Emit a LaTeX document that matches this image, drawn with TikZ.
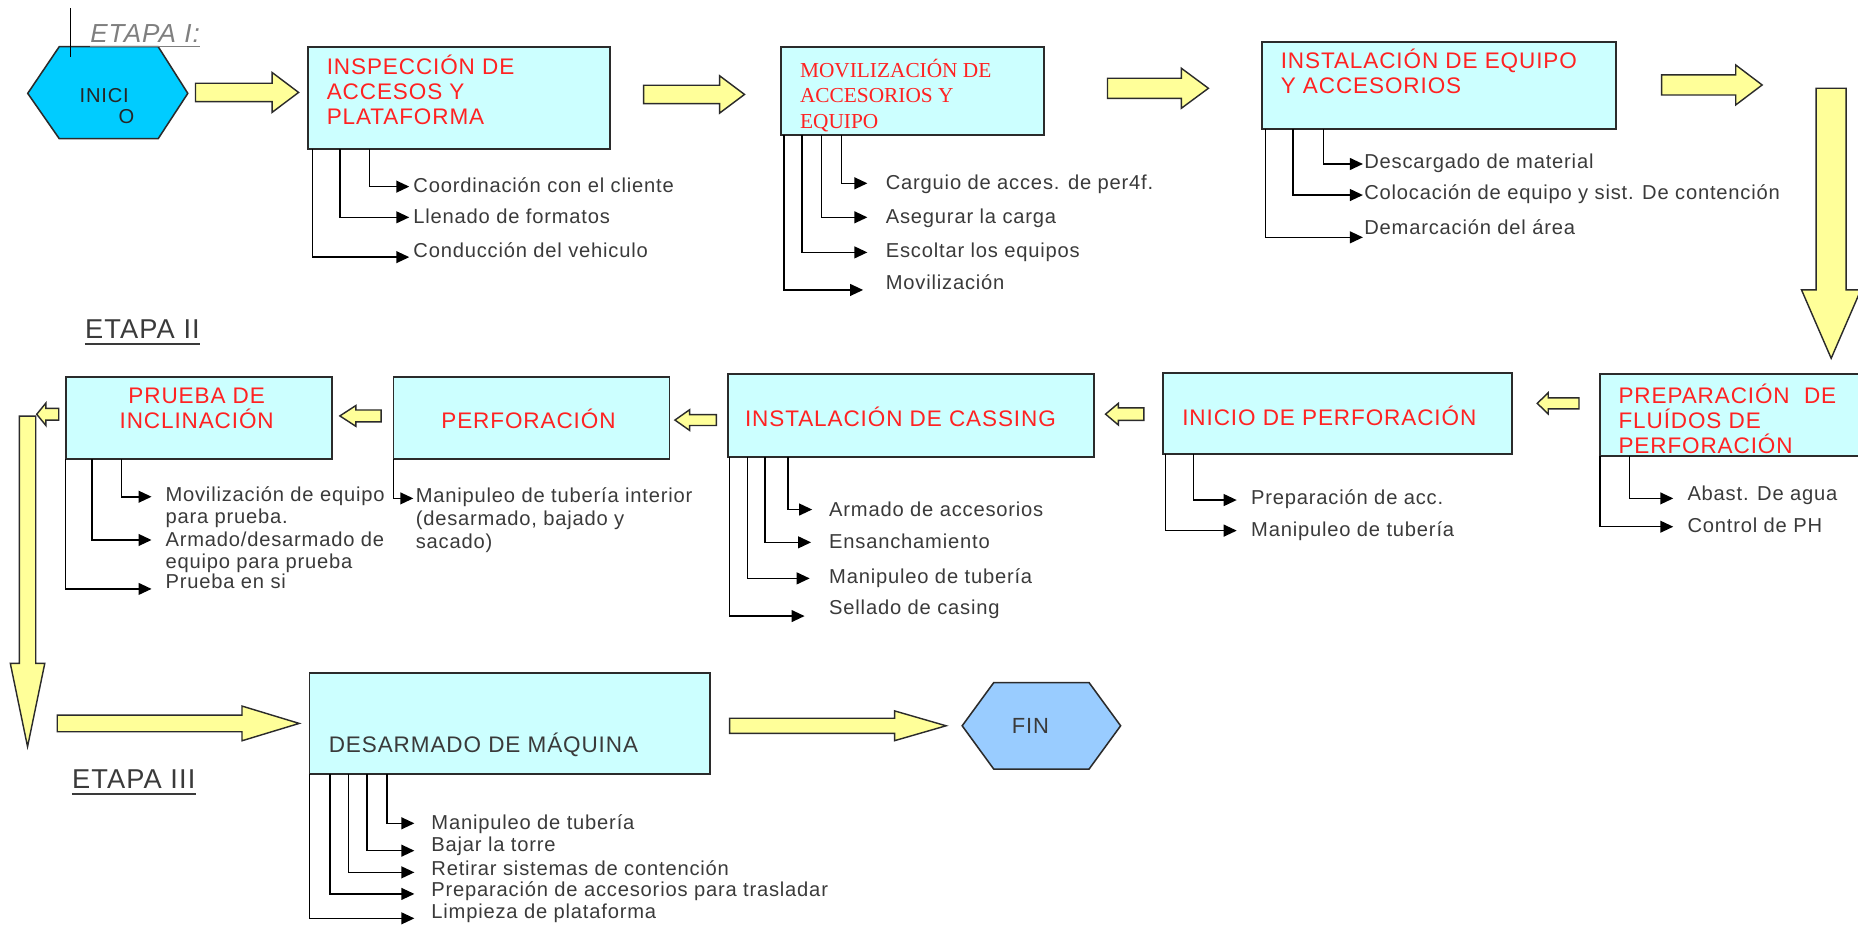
\documentclass[tikz,border=0pt]{standalone}
\usepackage{fontspec}
\setmainfont{Liberation Sans}[LetterSpace=4.0]
\newfontfamily\serfont{Liberation Serif}
\usetikzlibrary{arrows.meta}
\definecolor{boxfill}{HTML}{CCFFFF}
\definecolor{yel}{HTML}{FFFF99}
\definecolor{hexA}{HTML}{00CCFF}
\definecolor{hexB}{HTML}{99CCFF}
\definecolor{ttlred}{HTML}{FF2222}
\definecolor{txt}{HTML}{3A3A3A}
\definecolor{edge}{HTML}{2B2B2B}
\definecolor{etgray}{HTML}{7F7F7F}
\newcommand\yharr[6]{\draw[yarr] (#1,#4-#5) -- (#2,#4-#5) -- (#2,#4-#6) -- (#3,#4) -- (#2,#4+#6) -- (#2,#4+#5) -- (#1,#4+#5) -- cycle;}
\newcommand\yvarr[6]{\draw[yarr] (#1-#5,#2) -- (#1-#5,#3) -- (#1-#6,#3) -- (#1,#4) -- (#1+#6,#3) -- (#1+#5,#3) -- (#1+#5,#2) -- cycle;}
\tikzset{
 pbox/.style={draw=edge, line width=1.5pt, fill=boxfill, inner sep=0pt, outer sep=0pt},
 ttl/.style={inner sep=0pt, text=ttlred, font=\fontsize{19}{21.1}\selectfont, align=left},
 subt/.style={inner sep=0pt, text=txt, font=\fontsize{17}{18.3}\selectfont, align=left, anchor=base west},
 subarr/.style={draw=black, line width=1.3pt, -{Triangle[length=11pt,width=10pt]}},
 yarr/.style={draw=edge, line width=1.2pt, fill=yel, line join=miter},
 etapa/.style={inner sep=0pt, text=txt, font=\fontsize{23}{25}\selectfont, anchor=base west},
 hexs/.style={draw=edge, line width=1.3pt},
}
\begin{document}
\begin{tikzpicture}[x=1pt,y=-1pt]
\useasboundingbox (0,0) rectangle (1568,781);
\fill[white] (0,0) rectangle (1568,781);

% ---------- ETAPA I ----------
\draw[hexs, fill=hexA] (23.4,78.8) -- (50,39.4) -- (133.5,39.4) -- (158.5,78.8) -- (133.5,117) -- (50,117) -- cycle;
\node[inner sep=0pt, anchor=base west, font=\fontsize{17}{18.5}\selectfont, align=left, text=black!85] (inicio) at (67,104.6) {INICI\\\hspace*{33pt}O};
\coordinate (mkA) at (59.4,7);
\coordinate (mkB) at (59.4,47.8);
\draw[line width=1.3pt] (mkA) -- (mkB);
\node[etapa, font=\itshape\fontsize{22}{24}\selectfont, text=etgray] (e1) at (76,35.9) {ETAPA I:};
\draw[etgray, line width=1pt] ([yshift=-3.5pt]e1.base west) -- ([yshift=-3.5pt]e1.base east);

\yharr{165}{229.6}{252}{78}{7.75}{16.85}

\node[pbox, minimum width=255.4pt, minimum height=86.3pt] (insp) at (387.3,82.55) {};
\node[ttl, anchor=base west] (inspT) at (275.6,105.3) {INSPECCIÓN DE\\ACCESOS Y\\PLATAFORMA};
\coordinate (inspA) at (345.4,157.5);
\coordinate (inspB) at (345.4,183.4);
\coordinate (inspC) at (345.4,217);
\draw[subarr] ([xshift=52.4pt]insp.south west) |- (inspA);
\draw[subarr] ([xshift=27.4pt]insp.south west) |- (inspB);
\draw[subarr] ([xshift=4pt]insp.south west) |- (inspC);
\node[subt] (inspAt) at (348.7,162.2) {Coordinación con el cliente};
\node[subt] (inspBt) at (348.7,188.3) {Llenado de formatos};
\node[subt] (inspCt) at (348.7,217) {Conducción del vehiculo};

\yharr{543.2}{607.3}{628.3}{79.7}{7.75}{15.75}

\node[pbox, minimum width=222pt, minimum height=74.5pt] (mov) at (770.3,76.65) {};
\node[ttl, anchor=base west, font=\serfont\fontsize{18}{21.8}\selectfont] (movT) at (675,108.6) {MOVILIZACIÓN DE\\ACCESORIOS Y\\EQUIPO};
\coordinate (movA) at (732,154.7);
\coordinate (movB) at (732,183.4);
\coordinate (movC) at (732,213);
\coordinate (movD) at (728.4,244.7);
\draw[subarr] ([xshift=50.8pt]mov.south west) |- (movA);
\draw[subarr] ([xshift=34.1pt]mov.south west) |- (movB);
\draw[subarr] ([xshift=17.4pt]mov.south west) |- (movC);
\draw[subarr] ([xshift=2.4pt]mov.south west) |- (movD);
\node[subt] (movAt) at (747.4,160.2) {Carguio de acces. de per4f.};
\node[subt] (movBt) at (747.4,188.3) {Asegurar la carga};
\node[subt] (movCt) at (747.4,217) {Escoltar los equipos};
\node[subt] (movDt) at (747.4,244) {Movilización};

\yharr{934.6}{997}{1019.8}{74.5}{8.45}{16.85}

\node[pbox, minimum width=299.3pt, minimum height=73.9pt] (inst) at (1214.35,72.15) {};
\node[ttl, anchor=base west] (instT) at (1080.7,78.5) {INSTALACIÓN DE EQUIPO\\Y ACCESORIOS};
\coordinate (instA) at (1150.2,138.4);
\coordinate (instB) at (1150.2,164.6);
\coordinate (instC) at (1150.2,200.3);
\draw[subarr] ([xshift=52.2pt]inst.south west) |- (instA);
\draw[subarr] ([xshift=26.6pt]inst.south west) |- (instB);
\draw[subarr] ([xshift=3.3pt]inst.south west) |- (instC);
\node[subt] (instAt) at (1151.2,141.9) {Descargado de material};
\node[subt] (instBt) at (1151.2,168.7) {Colocación de equipo y sist. De contención};
\node[subt] (instCt) at (1151.2,198.2) {Demarcación del área};

\yharr{1402.3}{1464.8}{1487.1}{71.7}{8.45}{16.85}
\yvarr{1545.35}{74.5}{244.7}{302.4}{12.65}{25}

% ---------- ETAPA II ----------
\node[etapa] (e2) at (71.7,285.6) {ETAPA II};
\draw[txt, line width=1pt] ([yshift=-4.7pt]e2.base west) -- ([yshift=-4.7pt]e2.base east);

\node[pbox, minimum width=224.8pt, minimum height=68.7pt] (prep) at (1462.6,350.25) {};
\node[ttl, anchor=base west] (prepT) at (1365.7,382.4) {PREPARACIÓN~ DE\\FLUÍDOS DE\\PERFORACIÓN};
\coordinate (prepA) at (1412.1,420.6);
\coordinate (prepB) at (1412.1,444.5);
\draw[subarr] ([xshift=24.8pt]prep.south west) |- (prepA);
\draw[subarr] (prep.south west) |- (prepB);
\node[subt] (prepAt) at (1423.9,422.4) {Abast. De agua};
\node[subt] (prepBt) at (1423.9,449.4) {Control de PH};

\yharr{1332.5}{1306.6}{1297.3}{340.4}{4.65}{9}

\node[pbox, minimum width=294.5pt, minimum height=68.6pt] (iniperf) at (1128.95,348.8) {};
\node[ttl, anchor=base west] (iniperfT) at (997.6,359) {INICIO DE PERFORACIÓN};
\coordinate (ipA) at (1043.7,422);
\coordinate (ipB) at (1043.7,447.8);
\draw[subarr] ([xshift=25.4pt]iniperf.south west) |- (ipA);
\draw[subarr] ([xshift=1.7pt]iniperf.south west) |- (ipB);
\node[subt] (ipAt) at (1055.7,426.1) {Preparación de acc.};
\node[subt] (ipBt) at (1055.7,452.8) {Manipuleo de tubería};

\yharr{965.3}{943.8}{933}{349.5}{5.3}{9.15}

\node[pbox, minimum width=308.7pt, minimum height=70pt] (cass) at (768.75,350.9) {};
\node[ttl, anchor=base west] (cassT) at (628.6,359.8) {INSTALACIÓN DE CASSING};
\coordinate (cassA) at (685.4,430);
\coordinate (cassB) at (684.5,457.7);
\coordinate (cassC) at (683.3,488.1);
\coordinate (cassD) at (679,519.9);
\draw[subarr] ([xshift=50.4pt]cass.south west) |- (cassA);
\draw[subarr] ([xshift=31.4pt]cass.south west) |- (cassB);
\draw[subarr] ([xshift=16.3pt]cass.south west) |- (cassC);
\draw[subarr] ([xshift=1.3pt]cass.south west) |- (cassD);
\node[subt] (cassAt) at (699.6,435.9) {Armado de accesorios};
\node[subt] (cassBt) at (699.6,463.2) {Ensanchamiento};
\node[subt] (cassCt) at (699.6,492.2) {Manipuleo de tubería};
\node[subt] (cassDt) at (699.6,518.9) {Sellado de casing};

\yharr{604.5}{582}{569.6}{354.5}{4.6}{8.75}

\node[pbox, minimum width=233pt, minimum height=69.5pt] (perf) at (448.5,352.65) {};
\node[ttl, anchor=base] (perfT) at (446,361.3) {PERFORACIÓN};
\coordinate (perfA) at (348.8,420.6);
\draw[subarr] (perf.south west) |- (perfA);
\node[subt, font=\fontsize{17}{19.2}\selectfont] (perfAt) at (350.7,462.5) {Manipuleo de tubería interior\\(desarmado, bajado y\\sacado)};

\yharr{321.6}{300.3}{286.8}{351}{5}{8.75}

\node[pbox, minimum width=224.8pt, minimum height=69.5pt] (prueba) at (167.8,352.65) {};
\node[ttl, anchor=base, align=center] (pruebaT) at (166,361.3) {PRUEBA DE\\INCLINACIÓN};
\coordinate (prA) at (127.9,419.2);
\coordinate (prB) at (127.9,455.7);
\coordinate (prC) at (127.9,497);
\draw[subarr] ([xshift=47.3pt]prueba.south west) |- (prA);
\draw[subarr] ([xshift=22.1pt]prueba.south west) |- (prB);
\draw[subarr] (prueba.south west) |- (prC);
\node[subt] (prAt) at (139.5,441.5) {Movilización de equipo\\para prueba.};
\node[subt] (prBt) at (139.5,479.5) {Armado/desarmado de\\equipo para prueba};
\node[subt] (prCt) at (139.5,496.4) {Prueba en si};

\yharr{49.6}{38.75}{31}{349.6}{5}{9.5}
\yvarr{23.25}{351.1}{559.8}{630.1}{6.95}{14.55}

% ---------- ETAPA III ----------
\node[etapa] (e3) at (60.7,665.4) {ETAPA III};
\draw[txt, line width=1pt] ([yshift=-4.7pt]e3.base west) -- ([yshift=-4.7pt]e3.base east);

\yharr{48.3}{204.2}{252.5}{610.5}{7}{14.65}

\node[pbox, minimum width=337.9pt, minimum height=85.3pt] (desarm) at (430.15,610.85) {};
\node[ttl, anchor=base west, text=txt] (desarmT) at (277.3,634.7) {DESARMADO DE MÁQUINA};
\coordinate (dA) at (349.7,694.8);
\coordinate (dB) at (349.7,717.9);
\coordinate (dC) at (349.7,736.2);
\coordinate (dD) at (349.7,754.4);
\coordinate (dE) at (349.7,775);
\draw[subarr] ([xshift=65.6pt]desarm.south west) |- (dA);
\draw[subarr] ([xshift=48.3pt]desarm.south west) |- (dB);
\draw[subarr] ([xshift=32.8pt]desarm.south west) |- (dC);
\draw[subarr] ([xshift=17.3pt]desarm.south west) |- (dD);
\draw[subarr] (desarm.south west) |- (dE);
\node[subt] (dAt) at (363.9,700.3) {Manipuleo de tubería};
\node[subt] (dBt) at (363.9,718.6) {Bajar la torre};
\node[subt] (dCt) at (363.9,739.1) {Retirar sistemas de contención};
\node[subt] (dDt) at (363.9,756.6) {Preparación de accesorios para trasladar};
\node[subt] (dEt) at (363.9,774.9) {Limpieza de plataforma};

\yharr{615.8}{755}{798.4}{612.5}{6.35}{12.55}

\draw[hexs, fill=hexB] (812,612.5) -- (838.6,576.1) -- (919.1,576.1) -- (945.7,612.5) -- (919.1,649) -- (838.6,649) -- cycle;
\node[inner sep=0pt, font=\fontsize{18.5}{20}\selectfont, text=txt] (fin) at (869.5,612.7) {FIN};
\end{tikzpicture}
\end{document}
